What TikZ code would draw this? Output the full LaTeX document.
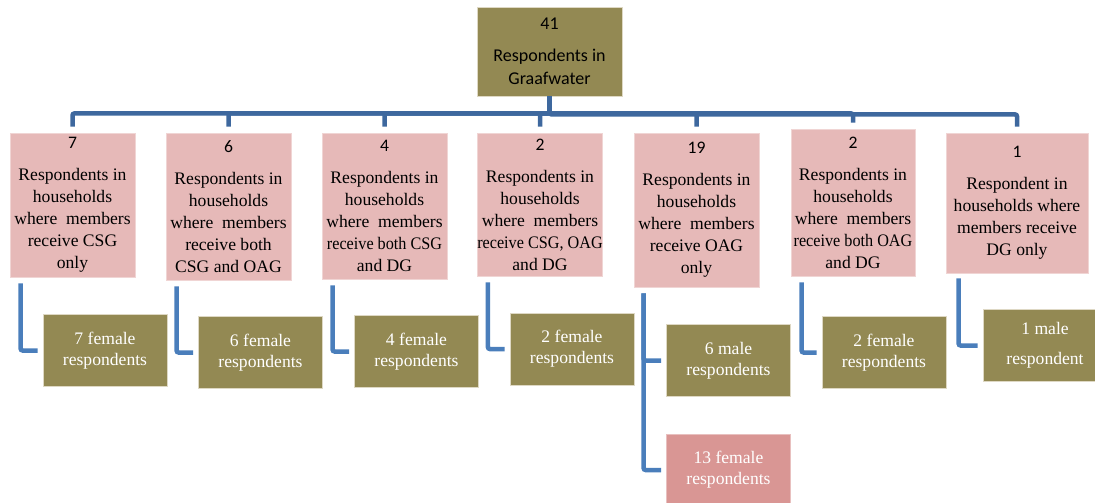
\documentclass[tikz,border=0pt]{standalone}
\usepackage{fontspec}
\setmainfont{Liberation Serif}
\newfontfamily\numfont{Carlito}
\newfontfamily\tightfont{Liberation Serif}[FakeStretch=0.92]
\usepackage{tikz}
\usepackage{xcolor}
\definecolor{olivebg}{RGB}{147,137,83}
\definecolor{pinkbg}{RGB}{230,185,184}
\definecolor{rosebg}{RGB}{217,150,148}
\definecolor{busblue}{RGB}{62,104,158}
\definecolor{elbowblue}{RGB}{74,126,187}
\definecolor{edgebeige}{RGB}{222,216,196}

\begin{document}
\begin{tikzpicture}[x=1pt, y=-1pt,
        pinkbox/.style={fill=pinkbg, draw=pinkbg!60!white, line width=0.8pt, inner sep=0pt, align=center, minimum width=125pt, font=\fontsize{17.6}{22}\selectfont},
        olivebox/.style={fill=olivebg, draw=edgebeige, line width=0.8pt, inner sep=0pt, align=center, minimum width=124pt, minimum height=72pt, text=white, font=\fontsize{17.6}{21}\selectfont},
        busline/.style={draw=busblue, line width=4.5pt, rounded corners=2pt},
        elbow/.style={draw=elbowblue, line width=4.5pt, rounded corners=2pt}]
        \useasboundingbox (0,0) rectangle (1095,503);

        \node [fill=olivebg, draw=edgebeige, line width=0.8pt, inner sep=0pt, align=center, minimum width=145pt, minimum height=89pt, font=\numfont\fontsize{18}{23}\selectfont] (top) at (549.5,51.5) {41\\[9pt]Respondents in\\Graafwater};

        \node [pinkbox, minimum height=144pt] (c1) at (72.5,205) {{\numfont 7}\\[10pt]Respondents in\\households\\where~~members\\receive CSG\\only};
        \node [pinkbox, minimum height=147pt] (c2) at (228.5,206.5) {{\numfont 6}\\[10pt]Respondents in\\households\\where~~members\\receive both\\CSG and OAG};
        \node [pinkbox, minimum height=146pt] (c3) at (384.5,206) {{\numfont 4}\\[10pt]Respondents in\\households\\where~~members\\{\tightfont receive both CSG}\\and DG};
        \node [pinkbox, minimum height=143pt, minimum width=124pt] (c4) at (540,204.5) {{\numfont 2}\\[10pt]Respondents in\\households\\where~~members\\{\tightfont receive CSG, OAG}\\and DG};
        \node [pinkbox, minimum height=154pt] (c5) at (696.5,210) {{\numfont 19}\\[10pt]Respondents in\\households\\where~~members\\receive OAG\\only};
        \node [pinkbox, minimum height=147pt, minimum width=124pt] (c6) at (853,202.5) {{\numfont 2}\\[10pt]Respondents in\\households\\where~~members\\{\tightfont receive both OAG}\\and DG};
        \node [pinkbox, minimum height=140pt, minimum width=142pt] (c7) at (1017,203) {{\numfont 1}\\[10pt]Respondent in\\households where\\members receive\\DG only};

        \node [olivebox] (g1) at (105,350.5) {7 female\\respondents};
        \node [olivebox] (g2) at (260.5,352.5) {6 female\\respondents};
        \node [olivebox] (g3) at (416.5,351.5) {4 female\\respondents};
        \node [olivebox] (g4) at (572,349) {2 female\\respondents};
        \node [olivebox] (g5a) at (728.5,360.5) {6 male\\respondents};
        \node [olivebox, fill=rosebg, draw=rosebg!60!white] (g5b) at (728.5,470) {13 female\\respondents};
        \node [olivebox] (g6) at (884,352.5) {2 female\\respondents};
        \node [olivebox] (g7) at (1045,345.5) {1 male\\[9pt]respondent};

        \draw [busline, shorten >=6pt] (top.south) -- ++(0,17) -| (c1.north);
        \draw [busline, shorten >=6pt] (top.south) -- ++(0,17) -| (c2.north);
        \draw [busline, shorten >=6pt] (top.south) -- ++(0,17) -| (c3.north);
        \draw [busline, shorten >=6pt] (top.south) -- ++(0,17) -| (c4.north);
        \draw [busline, shorten >=6pt] (top.south) -- ++(0,17) -| (c5.north);
        \draw [busline, shorten >=6pt] (top.south) -- ++(0,17) -| (c6.north);
        \draw [busline, shorten >=6pt] (top.south) -- ++(0,18) -| (c7.north);

        \draw [elbow] ([xshift=11pt, yshift=-6pt]c1.south west) |- ([xshift=-5pt]g1.west);
        \draw [elbow] ([xshift=11pt, yshift=-6pt]c2.south west) |- ([xshift=-5pt]g2.west);
        \draw [elbow] ([xshift=11pt, yshift=-6pt]c3.south west) |- ([xshift=-5pt]g3.west);
        \draw [elbow] ([xshift=11pt, yshift=-6pt]c4.south west) |- ([xshift=-5pt]g4.west);
        \draw [elbow] ([xshift=10pt, yshift=-6pt]c5.south west) |- ([xshift=-5pt]g5a.west);
        \draw [elbow] ([xshift=10pt, yshift=-6pt]c5.south west) |- ([xshift=-5pt]g5b.west);
        \draw [elbow] ([xshift=11pt, yshift=-6pt]c6.south west) |- ([xshift=-5pt]g6.west);
        \draw [elbow] ([xshift=13pt, yshift=-5pt]c7.south west) |- ([xshift=-5pt]g7.west);
    \end{tikzpicture}
\end{document}
